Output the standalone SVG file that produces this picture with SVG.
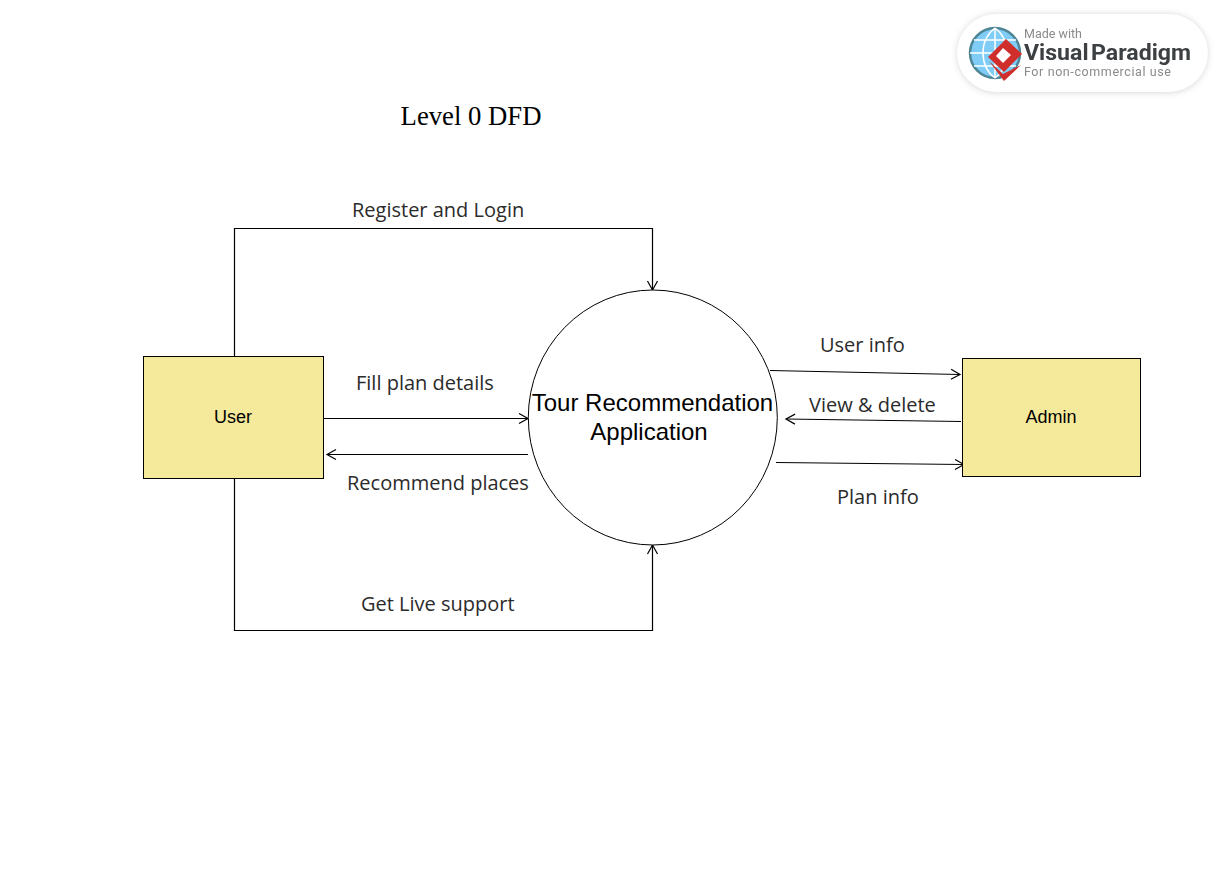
<svg xmlns="http://www.w3.org/2000/svg" width="1219" height="877" viewBox="0 0 1219 877">
<style>
.box{fill:#f5e99b;stroke:#000;stroke-width:1}
.ln{fill:none;stroke:#000;stroke-width:1.2}
.lab{font-family:"Open Sans",sans-serif;font-size:20px;fill:#2b2b2b}
.nm{font-family:"Liberation Sans",Arial,sans-serif;font-size:18px;fill:#000;text-anchor:middle}
.ttl{font-family:"Liberation Sans",Arial,sans-serif;font-size:24px;fill:#000;text-anchor:middle}
</style>
<defs>
<marker id="a" markerUnits="userSpaceOnUse" markerWidth="12" markerHeight="14" refX="10" refY="6" orient="auto" viewBox="0 0 12 12"><path d="M1 1 L10 6 L1 11" fill="none" stroke="#000" stroke-width="1.2"/></marker>
<filter id="sh" x="-10%" y="-30%" width="120%" height="160%"><feGaussianBlur stdDeviation="3"/></filter>
<filter id="soft" x="-5%" y="-5%" width="110%" height="110%"><feGaussianBlur stdDeviation="0.6"/></filter>
</defs>
<rect width="1219" height="877" fill="#fff"/>
<g id="badge">
<rect x="957" y="14" width="251" height="79" rx="39" fill="#bbb" opacity="0.55" filter="url(#sh)"/>
<rect x="957" y="14" width="251" height="78" rx="39" fill="#fff"/>
<g filter="url(#soft)">
<circle cx="995" cy="53" r="25" fill="#7fcdf6" stroke="#4d8595" stroke-width="2.5"/>
<path d="M970 53H1020M974 40H1016M974 66H1016M995 28V78M995 28C979 40 979 66 995 78M995 28C1011 40 1011 66 995 78" fill="none" stroke="#fff" stroke-width="1.5"/>
<path d="M1006 39 L1022 54 L1004 72 L988 57Z" fill="#cf2f2c"/>
<path d="M989 61 L1003 74 L1021 65 L1004 81Z" fill="#cf2f2c"/>
<path d="M1003 48 L1011 55 L1003 63 L996 56Z" fill="#fff"/>
</g>
<g filter="url(#soft)">
<text x="1024" y="38" font-family="Roboto,sans-serif" font-size="12.500" fill="#8a8a8a">Made with</text>
<text x="1024" y="60" font-family="Roboto,sans-serif" font-size="22" font-weight="700" fill="#3c4043" textLength="167" lengthAdjust="spacingAndGlyphs" word-spacing="-3">Visual Paradigm</text>
<text x="1024" y="76" font-family="Roboto,sans-serif" font-size="12.500" fill="#8a8a8a" textLength="147" lengthAdjust="spacing">For non-commercial use</text>
</g>
</g>
<text id="title" x="471" y="125" font-family="Liberation Serif,serif" font-size="26.700" fill="#000" text-anchor="middle">Level 0 DFD</text>
<g id="connectors">
<path class="ln" d="M234.500 356V228.500H652.500V290" marker-end="url(#a)"/>
<path class="ln" d="M234.500 478V630.500H652.500V545" marker-end="url(#a)"/>
<path class="ln" d="M324 418.500H528" marker-end="url(#a)"/>
<path class="ln" d="M528 454.500H327" marker-end="url(#a)"/>
<path class="ln" d="M770 370.500L960 374.500" marker-end="url(#a)"/>
<path class="ln" d="M961 421.500L786 419" marker-end="url(#a)"/>
<path class="ln" d="M776 462.500L964 464.500" marker-end="url(#a)"/>
</g>
<g id="user"><rect class="box" x="143.500" y="356.500" width="180" height="122"/><text class="nm" x="233" y="423">User</text></g>
<g id="admin"><rect class="box" x="962.500" y="358.500" width="178" height="118"/><text class="nm" x="1051" y="423">Admin</text></g>
<g id="app"><ellipse cx="652.800" cy="417.500" rx="124.500" ry="127.500" style="fill:#fff;stroke:#000;stroke-width:1"/>
<text class="ttl" x="652.500" y="411">Tour Recommendation</text><text class="ttl" x="649" y="440">Application</text></g>
<g id="labels">
<text class="lab" x="352" y="217">Register and Login</text>
<text class="lab" x="356" y="390">Fill plan details</text>
<text class="lab" x="347" y="490">Recommend places</text>
<text class="lab" x="361" y="611">Get Live support</text>
<text class="lab" x="820" y="352">User info</text>
<text class="lab" x="809" y="412">View &amp; delete</text>
<text class="lab" x="837" y="504">Plan info</text>
</g>
</svg>
